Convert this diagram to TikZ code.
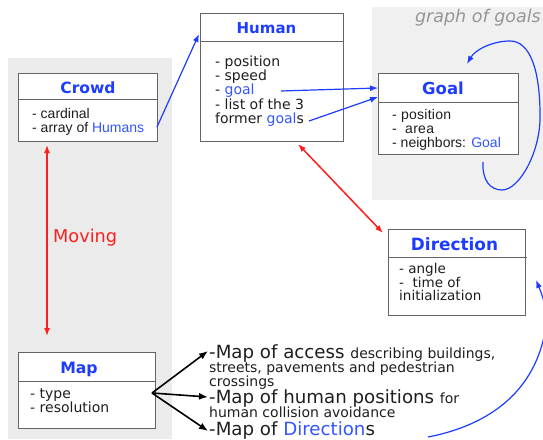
\documentclass[tikz,border=0pt]{standalone}
\usepackage{fontspec}
\setmainfont{DejaVu Sans}
\newfontfamily\arialfont{Liberation Sans}
\usetikzlibrary{arrows.meta}
\definecolor{tblue}{RGB}{30,60,255}
\definecolor{lblue}{RGB}{50,85,255}
\definecolor{tred}{RGB}{255,30,30}
\definecolor{boxgray}{RGB}{100,100,100}
\definecolor{panelL}{RGB}{235,235,235}
\definecolor{panelR}{RGB}{240,240,240}
\definecolor{txt}{RGB}{30,30,30}
\definecolor{ggray}{RGB}{150,150,150}
\begin{document}
\begin{tikzpicture}[x=1pt,y=-1pt,
  box/.style={draw=boxgray, line width=1pt, fill=white, anchor=north west, inner sep=0pt},
  sep/.style={draw=boxgray, line width=1pt},
  ttl/.style={font=\fontsize{16}{16}\selectfont\bfseries, text=tblue, anchor=base, inner sep=0pt},
  bl/.style={font=\fontsize{14}{14}\selectfont, text=txt, anchor=base west, inner sep=0pt},
  al/.style={font=\arialfont\fontsize{14}{14}\selectfont, text=txt, anchor=base west, inner sep=0pt},
  bigl/.style={font=\fontsize{18.2}{18.2}\selectfont, text=txt, anchor=base west, inner sep=0pt},
  blue/.style={draw=tblue, line width=1.2pt, -{Latex[length=8pt,width=6pt]}},
  redarr/.style={draw=tred, line width=1.5pt, {Latex[length=8pt,width=6pt]}-{Latex[length=8pt,width=6pt]}},
  blackarr/.style={draw=black, line width=1.6pt, -{Latex[length=9pt,width=7pt]}}
]
\useasboundingbox (0,0) rectangle (543,439);
\begin{scope}
\clip (0,0) rectangle (543,439);
% panels
\fill[panelL] (8,58) rectangle (172,439);
\fill[panelR] (372,7) rectangle (543,200);
\node[anchor=base east, inner sep=0pt, font=\fontsize{17.5}{17.5}\selectfont\itshape, text=ggray] (gog) at (541,23) {graph of goals};

% Crowd
\node[box, minimum width=139pt, minimum height=68pt] (crowd) at (18,73) {};
\draw[sep] (18,99) -- (157,99);
\node[ttl, font=\fontsize{15.5}{15.5}\selectfont\bfseries] (crowdT) at (88,93) {Crowd};
\node[al] (c1) at (32,118) {- cardinal};
\node[al] (c2) at (32,132) {- array of \textcolor{lblue}{Humans}};

% Human
\node[box, minimum width=143pt, minimum height=128pt] (human) at (200,13) {};
\draw[sep] (200,41) -- (343,41);
\node[ttl, font=\fontsize{15}{15}\selectfont\bfseries] (humanT) at (266.5,33) {Human};
\node[bl] (h1) at (215,66.5) {- position};
\node[bl] (h2) at (215,80.5) {- speed};
\node[bl] (h3) at (215,94.5) {- \textcolor{lblue}{goal}};
\node[bl] (h4) at (215,109) {- list of the 3};
\node[bl] (h5) at (215,123) {former \textcolor{lblue}{goal}s};

% Goal
\node[box, minimum width=140pt, minimum height=81pt] (goal) at (378,73) {};
\draw[sep] (378,102) -- (518,102);
\node[ttl, font=\fontsize{16.5}{16.5}\selectfont\bfseries] (goalT) at (443,94) {Goal};
\node[al, font=\arialfont\fontsize{14}{14}\selectfont\addfontfeatures{LetterSpace=2}] (g1) at (392,119) {- position};
\node[al, font=\arialfont\fontsize{14}{14}\selectfont\addfontfeatures{LetterSpace=2}] (g2) at (392,133) {- \ area};
\node[al] (g3) at (392,147) {- neighbors: \textcolor{lblue}{Goal}};

% Direction
\node[box, minimum width=137pt, minimum height=86pt] (dir) at (388,229) {};
\draw[sep] (388,257) -- (527,257);
\node[ttl, font=\fontsize{16.9}{16.9}\selectfont\bfseries] (dirT) at (454.5,250) {Direction};
\node[anchor=north west, inner sep=0pt, align=left, text=txt,
      font=\fontsize{13.5}{12.5}\selectfont] (dbody) at (399,263.2)
      {- angle\\- \ time of\\initialization};

% Map
\node[box, minimum width=137pt, minimum height=76pt] (map) at (18,352) {};
\draw[sep] (18,381) -- (155,381);
\node[ttl, font=\fontsize{15.7}{15.7}\selectfont\bfseries] (mapT) at (79,373) {Map};
\node[bl] (m1) at (30,398) {- type};
\node[bl] (m2) at (30,412.5) {- resolution};

% map list
\node[bigl] (l1) at (209,358.5) {-Map of access \fontsize{14}{14}\selectfont describing buildings,};
\node[bl] (l2) at (209,372.5) {streets, pavements and pedestrian};
\node[bl] (l3) at (209,386.5) {crossings};
\node[bigl] (l4) at (209,403.5) {-Map of human positions \fontsize{14}{14}\selectfont for};
\node[bl] (l5) at (209,417.5) {human collision avoidance};
\node[bigl] (l6) at (209,435) {-Map of \textcolor{lblue}{Direction}s};

\node[anchor=base west, inner sep=0pt, font=\fontsize{17.7}{17.7}\selectfont, text=tred] (moving) at (53,242.5) {Moving};

% coordinates
\coordinate (humansEnd) at (157,127);
\coordinate (humanIn) at (199,34);
\coordinate (goalStart) at (281,91);
\coordinate (goalIn1) at (378,88);
\coordinate (goalsStart) at (309,121);
\coordinate (goalIn2) at (378,97);
\coordinate (humanBot) at (298,144);
\coordinate (dirTL) at (383,233);
\coordinate (crowdBot) at (47,145);
\coordinate (mapTop) at (47,336);
\coordinate (mapOut) at (152,393);
\coordinate (la) at (208,351);
\coordinate (lb) at (208,397);
\coordinate (lc) at (208,431);
\coordinate (loopStart) at (483,162);
\coordinate (loopEnd) at (467,64);
\coordinate (dirsStart) at (428,437);
\coordinate (dirIn) at (536,280);

% connectors
\draw[blue] (humansEnd) -- (humanIn);
\draw[blue] (goalStart) -- (goalIn1);
\draw[blue] (goalsStart) -- (goalIn2);
\draw[redarr] (humanBot) -- (dirTL);
\draw[redarr] (crowdBot) -- (mapTop);
\draw[blackarr] (mapOut) -- (la);
\draw[blackarr] (mapOut) -- (lb);
\draw[blackarr] (mapOut) -- (lc);
\draw[blue] (loopStart) .. controls (482,180) and (490,190) .. (502,190)
  .. controls (520,190) and (541,150) .. (540,115)
  .. controls (540,70) and (530,41) .. (510,41)
  .. controls (492,41) and (475,50) .. (loopEnd);
\draw[blue] (dirsStart) .. controls (490,425) and (540,390) .. (547,318)
  .. controls (546,305) and (541,292) .. (dirIn);
\end{scope}
\end{tikzpicture}
\end{document}
